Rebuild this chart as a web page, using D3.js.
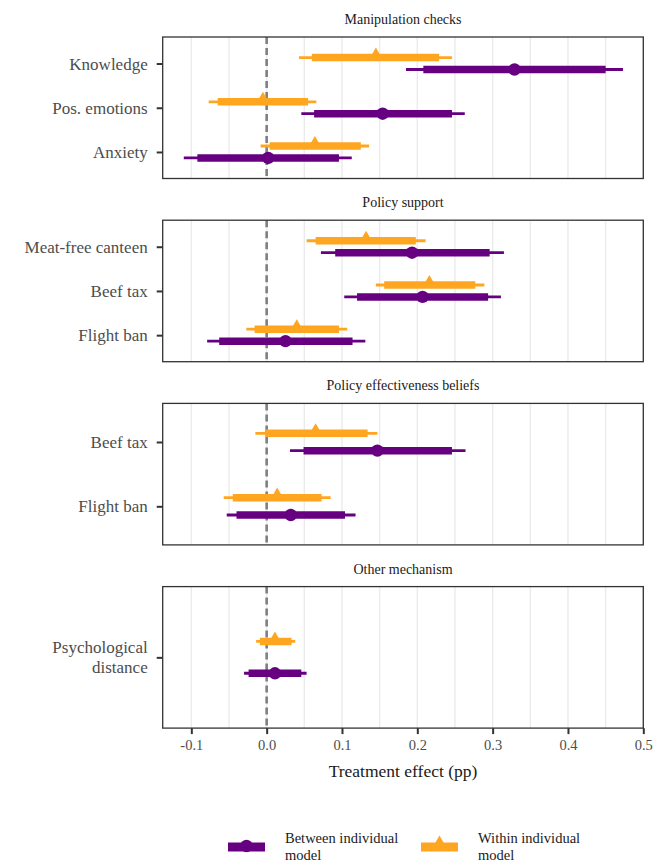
<!DOCTYPE html>
<html><head><meta charset="utf-8">
<script src="https://cdn.jsdelivr.net/npm/d3@7/dist/d3.min.js"></script>
<style>body{margin:0;background:#fff}svg{display:block}</style>
</head><body>
<script>
// ---- data ----
const panels = ["Manipulation checks", "Policy support", "Policy effectiveness beliefs", "Other mechanism"];
const outcomes = ["Knowledge", "Pos. emotions", "Anxiety", "Meat-free canteen", "Beef tax", "Flight ban", "Beef tax", "Flight ban", "Psychological\ndistance"];
const outcomePanel = [0, 0, 0, 1, 1, 1, 2, 2, 3];
// Between individual model
const betweenEst  = [0.329, 0.154, 0.002, 0.193, 0.207, 0.025, 0.147, 0.032, 0.011];
const betweenLo95 = [0.185, 0.046, -0.110, 0.072, 0.103, -0.079, 0.031, -0.053, -0.030];
const betweenHi95 = [0.473, 0.263, 0.113, 0.315, 0.311, 0.131, 0.264, 0.118, 0.053];
const betweenLo90 = [0.208, 0.063, -0.092, 0.091, 0.120, -0.063, 0.049, -0.040, -0.024];
const betweenHi90 = [0.450, 0.246, 0.096, 0.296, 0.294, 0.114, 0.246, 0.104, 0.046];
// Within individual model
const withinEst  = [0.145, -0.005, 0.064, 0.132, 0.216, 0.040, 0.065, 0.014, 0.011];
const withinLo95 = [0.043, -0.077, -0.008, 0.053, 0.145, -0.027, -0.015, -0.057, -0.014];
const withinHi95 = [0.246, 0.066, 0.136, 0.211, 0.289, 0.107, 0.147, 0.085, 0.038];
const withinLo90 = [0.060, -0.065, 0.004, 0.065, 0.156, -0.016, -0.002, -0.045, -0.009];
const withinHi90 = [0.229, 0.055, 0.125, 0.198, 0.277, 0.096, 0.134, 0.073, 0.033];
const xTicks = [-0.1, 0.0, 0.1, 0.2, 0.3, 0.4, 0.5];
const xDomain = [-0.138, 0.5];
const models = ["Between individual\nmodel", "Within individual\nmodel"];
const colors = ["#660080", "#ffa620"];

// ---- layout ----
const W = 655, H = 861;
const left = 162.7, right = 643.3;
const top0 = 37, panelStep = 183.2, panelH = 141.5;
const serif = "Liberation Serif, Times New Roman, DejaVu Serif, Noto Serif, serif";

const svg = d3.select("body").append("svg").attr("width", W).attr("height", H);
const x = d3.scaleLinear().domain(xDomain).range([left, right]);

const seriesDefs = [
  {est: betweenEst, lo95: betweenLo95, hi95: betweenHi95, lo90: betweenLo90, hi90: betweenHi90, color: colors[0], dodge: 1, shape: "circle"},
  {est: withinEst, lo95: withinLo95, hi95: withinHi95, lo90: withinLo90, hi90: withinHi90, color: colors[1], dodge: -1, shape: "triangle"}
];

const tri = d3.symbol().type(d3.symbolTriangle).size(95);

panels.forEach((pname, pi) => {
  const top = top0 + pi * panelStep;
  const idx = outcomes.map((o, i) => i).filter(i => outcomePanel[i] === pi);
  const y = d3.scalePoint().domain(idx.map(String)).range([top, top + panelH]).padding(0.6);
  const g = svg.append("g");

  g.append("text").attr("x", (left + right) / 2).attr("y", top - 13)
    .attr("text-anchor", "middle").style("font-family", serif).attr("font-size", 14)
    .attr("fill", "#1a1a1a").text(pname);

  const grid = d3.range(-0.1, 0.5001, 0.05);
  g.selectAll("line.grid").data(grid).join("line")
    .attr("x1", d => x(d)).attr("x2", d => x(d))
    .attr("y1", top).attr("y2", top + panelH)
    .attr("stroke", "#ebebeb").attr("stroke-width", 1.4);

  g.append("line").attr("x1", x(0)).attr("x2", x(0)).attr("y1", top).attr("y2", top + panelH)
    .attr("stroke", "#7f7f7f").attr("stroke-width", 2.6).attr("stroke-dasharray", "7,4");

  const dy = 0.135 * y.step();
  seriesDefs.slice().reverse().forEach(s => {
    idx.forEach(i => {
      const yc = y(String(i)) + s.dodge * dy;
      g.append("line").attr("x1", x(s.lo95[i])).attr("x2", x(s.hi95[i]))
        .attr("y1", yc).attr("y2", yc).attr("stroke", s.color).attr("stroke-width", 2.8);
      g.append("line").attr("x1", x(s.lo90[i])).attr("x2", x(s.hi90[i]))
        .attr("y1", yc).attr("y2", yc).attr("stroke", s.color).attr("stroke-width", 7.5);
      if (s.shape === "circle") {
        g.append("circle").attr("cx", x(s.est[i])).attr("cy", yc).attr("r", 6.2).attr("fill", s.color);
      } else {
        g.append("path").attr("d", tri).attr("transform", `translate(${x(s.est[i])},${yc - 1.5})`).attr("fill", s.color);
      }
    });
  });

  g.append("rect").attr("x", left).attr("y", top).attr("width", right - left).attr("height", panelH)
    .attr("fill", "none").attr("stroke", "#333333").attr("stroke-width", 1.3);

  const ya = g.append("g").attr("transform", `translate(${left},0)`)
    .call(d3.axisLeft(y).tickSize(6).tickPadding(8).tickFormat(() => ""));
  ya.select(".domain").remove();
  ya.selectAll(".tick line").attr("stroke", "#333333").attr("stroke-width", 2);
  ya.selectAll(".tick").each(function(d) {
    const lines = outcomes[+d].split("\n");
    const t = d3.select(this).append("text").attr("x", -15).attr("text-anchor", "end")
      .style("font-family", serif).attr("font-size", 17).attr("fill", "#4d4d4d");
    lines.forEach((ln, k) => {
      t.append("tspan").attr("x", -15)
        .attr("y", (k - (lines.length - 1) / 2) * 20 + 5.5).text(ln);
    });
  });

  if (pi === panels.length - 1) {
    const xa = g.append("g").attr("transform", `translate(0,${top + panelH})`)
      .call(d3.axisBottom(x).tickValues(xTicks).tickSize(6).tickPadding(6)
        .tickFormat(d => d3.format(".1f")(d).replace("\u2212", "-")));
    xa.select(".domain").remove();
    xa.selectAll(".tick line").attr("stroke", "#333333").attr("stroke-width", 2);
    xa.selectAll(".tick text").style("font-family", serif).attr("font-size", 14.5).attr("fill", "#4d4d4d");
    g.append("text").attr("x", (left + right) / 2).attr("y", top + panelH + 49)
      .attr("text-anchor", "middle").style("font-family", serif).attr("font-size", 17.5)
      .attr("fill", "#1a1a1a").text("Treatment effect (pp)");
  }
});

const legX = [228, 421];
const legY = 847;
models.forEach((m, k) => {
  const lg = svg.append("g");
  const s = seriesDefs[k];
  lg.append("line").attr("x1", legX[k]).attr("x2", legX[k] + 37).attr("y1", legY).attr("y2", legY)
    .attr("stroke", s.color).attr("stroke-width", 9);
  if (s.shape === "circle") {
    lg.append("circle").attr("cx", legX[k] + 18.5).attr("cy", legY - 1).attr("r", 6.2).attr("fill", s.color);
  } else {
    lg.append("path").attr("d", tri).attr("transform", `translate(${legX[k] + 18.5},${legY - 3})`).attr("fill", s.color);
  }
  const t = lg.append("text").style("font-family", serif).attr("font-size", 14.5).attr("fill", "#1a1a1a");
  m.split("\n").forEach((ln, j) => {
    t.append("tspan").attr("x", legX[k] + 57).attr("y", legY - 4 + j * 16.5).text(ln);
  });
});
</script>
</body></html>
